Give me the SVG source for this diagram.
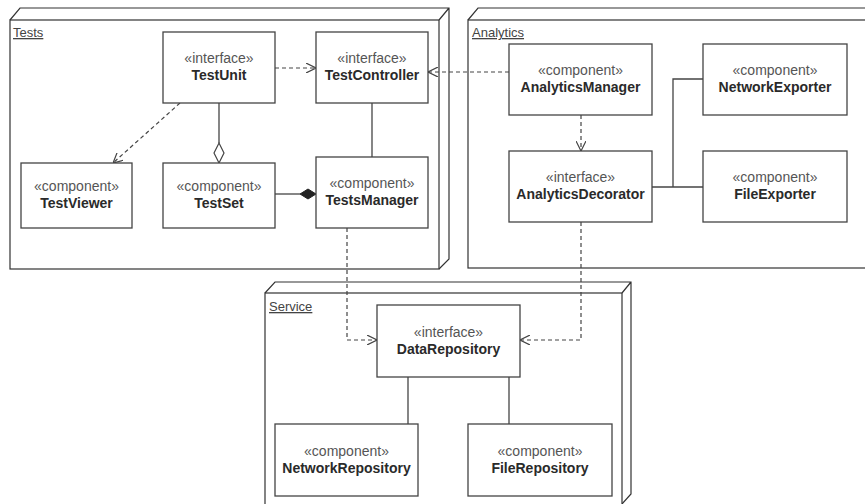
<svg xmlns="http://www.w3.org/2000/svg" width="865" height="504" viewBox="0 0 865 504">
<style>
.bg{fill:#fff}
.pkg{fill:#fff;stroke:#333;stroke-width:1.2}
.pl{fill:none;stroke:#333;stroke-width:1.2}
.box{fill:#fff;stroke:#444;stroke-width:1.3}
.st{font-family:"Liberation Sans",Arial,sans-serif;font-size:14px;fill:#555;text-anchor:middle}
.nm{font-family:"Liberation Sans",Arial,sans-serif;font-size:14px;font-weight:bold;fill:#2a2a2a;text-anchor:middle}
.lbl{font-family:"Liberation Sans",Arial,sans-serif;font-size:13px;fill:#444;text-decoration:underline}
.dash{fill:none;stroke:#444;stroke-width:1.2;stroke-dasharray:4 3}
.solid{fill:none;stroke:#444;stroke-width:1.3}
</style>
<defs>
<marker id="open" viewBox="0 0 10 10" refX="10" refY="5" markerWidth="10" markerHeight="10" orient="auto" markerUnits="userSpaceOnUse">
<path d="M0,0 L10,5 L0,10" fill="none" stroke="#444" stroke-width="1.2"/>
</marker>
</defs>
<rect class="bg" x="0" y="0" width="865" height="504"/>

<g id="pkg-tests">
<path class="pl" d="M10,20 L20,8 L449,8 L449,259 L439,269 M439,20 L449,8"/>
<rect class="pkg" x="10" y="20" width="429" height="249"/>
<text class="lbl" x="13" y="37">Tests</text>
</g>
<g id="pkg-analytics">
<path class="pl" d="M468,20 L478,8 L880,8"/>
<rect class="pkg" x="468" y="20" width="420" height="248"/>
<text class="lbl" x="472" y="37">Analytics</text>
</g>
<g id="pkg-service">
<path class="pl" d="M265,293 L275,282 L631,282 L631,494 L622,504 M622,293 L631,282"/>
<rect class="pkg" x="265" y="293" width="357" height="214"/>
<text class="lbl" x="269" y="311">Service</text>
</g>

<g id="connectors">
<line class="dash" x1="275" y1="68" x2="316" y2="68" marker-end="url(#open)"/>
<line class="dash" x1="509" y1="72" x2="428" y2="72" marker-end="url(#open)"/>
<line class="dash" x1="180" y1="103" x2="113" y2="163" marker-end="url(#open)"/>
<line class="solid" x1="219" y1="103" x2="219" y2="143"/>
<path d="M219,163 L224,153 L219,143 L214,153 Z" fill="#fff" stroke="#444" stroke-width="1.2"/>
<line class="solid" x1="275" y1="194" x2="300" y2="194"/>
<path d="M316,194 L308,189 L300,194 L308,199 Z" fill="#222" stroke="#222" stroke-width="1"/>
<line class="solid" x1="372" y1="103" x2="372" y2="157"/>
<polyline class="dash" points="347,228 347,340 377,340" marker-end="url(#open)"/>
<polyline class="dash" points="581,222 581,340 520,340" marker-end="url(#open)"/>
<line class="dash" x1="581" y1="115" x2="581" y2="151" marker-end="url(#open)"/>
<polyline class="solid" points="703,79 673,79 673,187"/>
<line class="solid" x1="652" y1="187" x2="703" y2="187"/>
<line class="solid" x1="408" y1="377" x2="408" y2="424"/>
<line class="solid" x1="509" y1="377" x2="509" y2="424"/>
</g>

<g id="TestUnit"><rect class="box" x="163" y="32" width="112" height="71"/><text class="st" x="219" y="63">«interface»</text><text class="nm" x="219" y="80">TestUnit</text></g>
<g id="TestController"><rect class="box" x="316" y="32" width="112" height="71"/><text class="st" x="372" y="63">«interface»</text><text class="nm" x="372" y="80">TestController</text></g>
<g id="TestViewer"><rect class="box" x="21" y="163" width="111" height="65"/><text class="st" x="76.5" y="191">«component»</text><text class="nm" x="76.5" y="208">TestViewer</text></g>
<g id="TestSet"><rect class="box" x="163" y="163" width="112" height="65"/><text class="st" x="219" y="191">«component»</text><text class="nm" x="219" y="208">TestSet</text></g>
<g id="TestsManager"><rect class="box" x="316" y="157" width="112" height="71"/><text class="st" x="372" y="188">«component»</text><text class="nm" x="372" y="205">TestsManager</text></g>
<g id="AnalyticsManager"><rect class="box" x="509" y="44" width="143" height="71"/><text class="st" x="580.5" y="75">«component»</text><text class="nm" x="580.5" y="92">AnalyticsManager</text></g>
<g id="NetworkExporter"><rect class="box" x="703" y="44" width="144" height="71"/><text class="st" x="775" y="75">«component»</text><text class="nm" x="775" y="92">NetworkExporter</text></g>
<g id="AnalyticsDecorator"><rect class="box" x="509" y="151" width="143" height="71"/><text class="st" x="580.5" y="182">«interface»</text><text class="nm" x="580.5" y="199">AnalyticsDecorator</text></g>
<g id="FileExporter"><rect class="box" x="703" y="151" width="144" height="71"/><text class="st" x="775" y="182">«component»</text><text class="nm" x="775" y="199">FileExporter</text></g>
<g id="DataRepository"><rect class="box" x="377" y="305" width="143" height="72"/><text class="st" x="448.5" y="337">«interface»</text><text class="nm" x="448.5" y="354">DataRepository</text></g>
<g id="NetworkRepository"><rect class="box" x="275" y="424" width="143" height="72"/><text class="st" x="346.5" y="456">«component»</text><text class="nm" x="346.5" y="473">NetworkRepository</text></g>
<g id="FileRepository"><rect class="box" x="468" y="424" width="144" height="72"/><text class="st" x="540" y="456">«component»</text><text class="nm" x="540" y="473">FileRepository</text></g>
</svg>
